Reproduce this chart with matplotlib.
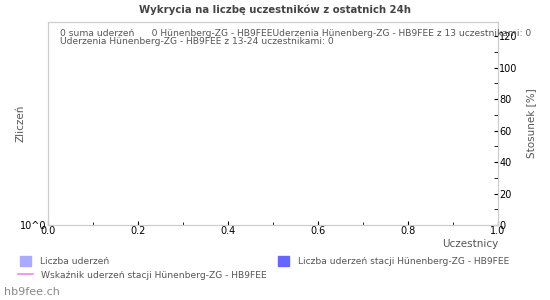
import matplotlib.pyplot as plt
from matplotlib.ticker import MultipleLocator, FixedLocator
from matplotlib.patches import Patch
from matplotlib.lines import Line2D

# no data in the last 24h
participants = []
strikes_all = []
strikes_station = []
ratio_station = []

title = "Wykrycia na liczbę uczestników z ostatnich 24h"
info_line1 = "0 suma uderzeń      0 Hünenberg-ZG - HB9FEEUderzenia Hünenberg-ZG - HB9FEE z 13 uczestnikami: 0"
info_line2 = "Uderzenia Hünenberg-ZG - HB9FEE z 13-24 uczestnikami: 0"

grey = "#555555"
spine = "#cccccc"

fig = plt.figure(figsize=(5.5, 3), dpi=100)
ax = fig.add_axes([48/550, 1-225/300, 450/550, 203/300])
ax2 = ax.twinx()

ax.bar(participants, strikes_all, color="#aaaaff")
ax.bar(participants, strikes_station, color="#6666ff")
ax2.plot(participants, ratio_station, color="#ee88ee")

ax.set_xlim(0, 1)
ax.set_yscale("log")
ax.set_ylim(1, 10)
ax.yaxis.set_major_locator(FixedLocator([1]))
ax.yaxis.set_minor_locator(FixedLocator([]))
ax.set_yticklabels(["10^0"])
ax.xaxis.set_major_locator(MultipleLocator(0.2))
ax.xaxis.set_minor_locator(MultipleLocator(0.1))
ax.tick_params(axis="x", which="major", direction="in", length=3, color="black", labelsize=7, pad=1)
ax.tick_params(axis="x", which="minor", direction="in", length=2, color="black")
ax.tick_params(axis="y", which="both", length=0, labelsize=7, pad=1)

ax2.set_ylim(0, 129)
ax2.yaxis.set_major_locator(MultipleLocator(20))
ax2.yaxis.set_minor_locator(MultipleLocator(10))
ax2.tick_params(axis="y", which="major", direction="in", length=3, color="black", labelsize=7, pad=1)
ax2.tick_params(axis="y", which="minor", direction="in", length=3, color="black")

for a in (ax, ax2):
    for s in a.spines.values():
        s.set_color(spine)
        s.set_linewidth(0.8)

ax.set_xlabel("Uczestnicy", fontsize=7.5, color=grey, loc="right", labelpad=2)
ax.set_ylabel("Zliczeń", fontsize=7.5, color=grey, labelpad=-4)
ax2.set_ylabel("Stosunek [%]", fontsize=7.5, color=grey, labelpad=6)

fig.text(0.5, 1-10/300, title, ha="center", va="center", fontsize=7.3, fontweight="bold", color="#444444")
fig.text(60/550, 1-33/300, info_line1, ha="left", va="center", fontsize=6.6, color=grey)
fig.text(60/550, 1-42/300, info_line2, ha="left", va="center", fontsize=6.6, color=grey)

handles1 = [Patch(color="#aaaaff"), Patch(color="#6666ff")]
labels1 = ["Liczba uderzeń", "Liczba uderzeń stacji Hünenberg-ZG - HB9FEE"]
fig.legend([handles1[0]], [labels1[0]], loc="center left", bbox_to_anchor=(12/550, 1-261/300),
           frameon=False, fontsize=6.6, labelcolor=grey, handlelength=1.2, handleheight=1.2,
           handletextpad=1.0)
fig.legend([handles1[1]], [labels1[1]], loc="center left", bbox_to_anchor=(270/550, 1-261/300),
           frameon=False, fontsize=6.6, labelcolor=grey, handlelength=1.2, handleheight=1.2,
           handletextpad=1.0)
fig.legend([Line2D([], [], color="#ee88ee", lw=1.2)], ["Wskaźnik uderzeń stacji Hünenberg-ZG - HB9FEE"],
           loc="center left", bbox_to_anchor=(10/550, 1-275/300),
           frameon=False, fontsize=6.6, labelcolor=grey, handlelength=1.6, handletextpad=0.9)

fig.text(4/550, 1-292/300, "hb9fee.ch", ha="left", va="center", fontsize=8, color="#888888")

fig.savefig("out.png", dpi=100)
